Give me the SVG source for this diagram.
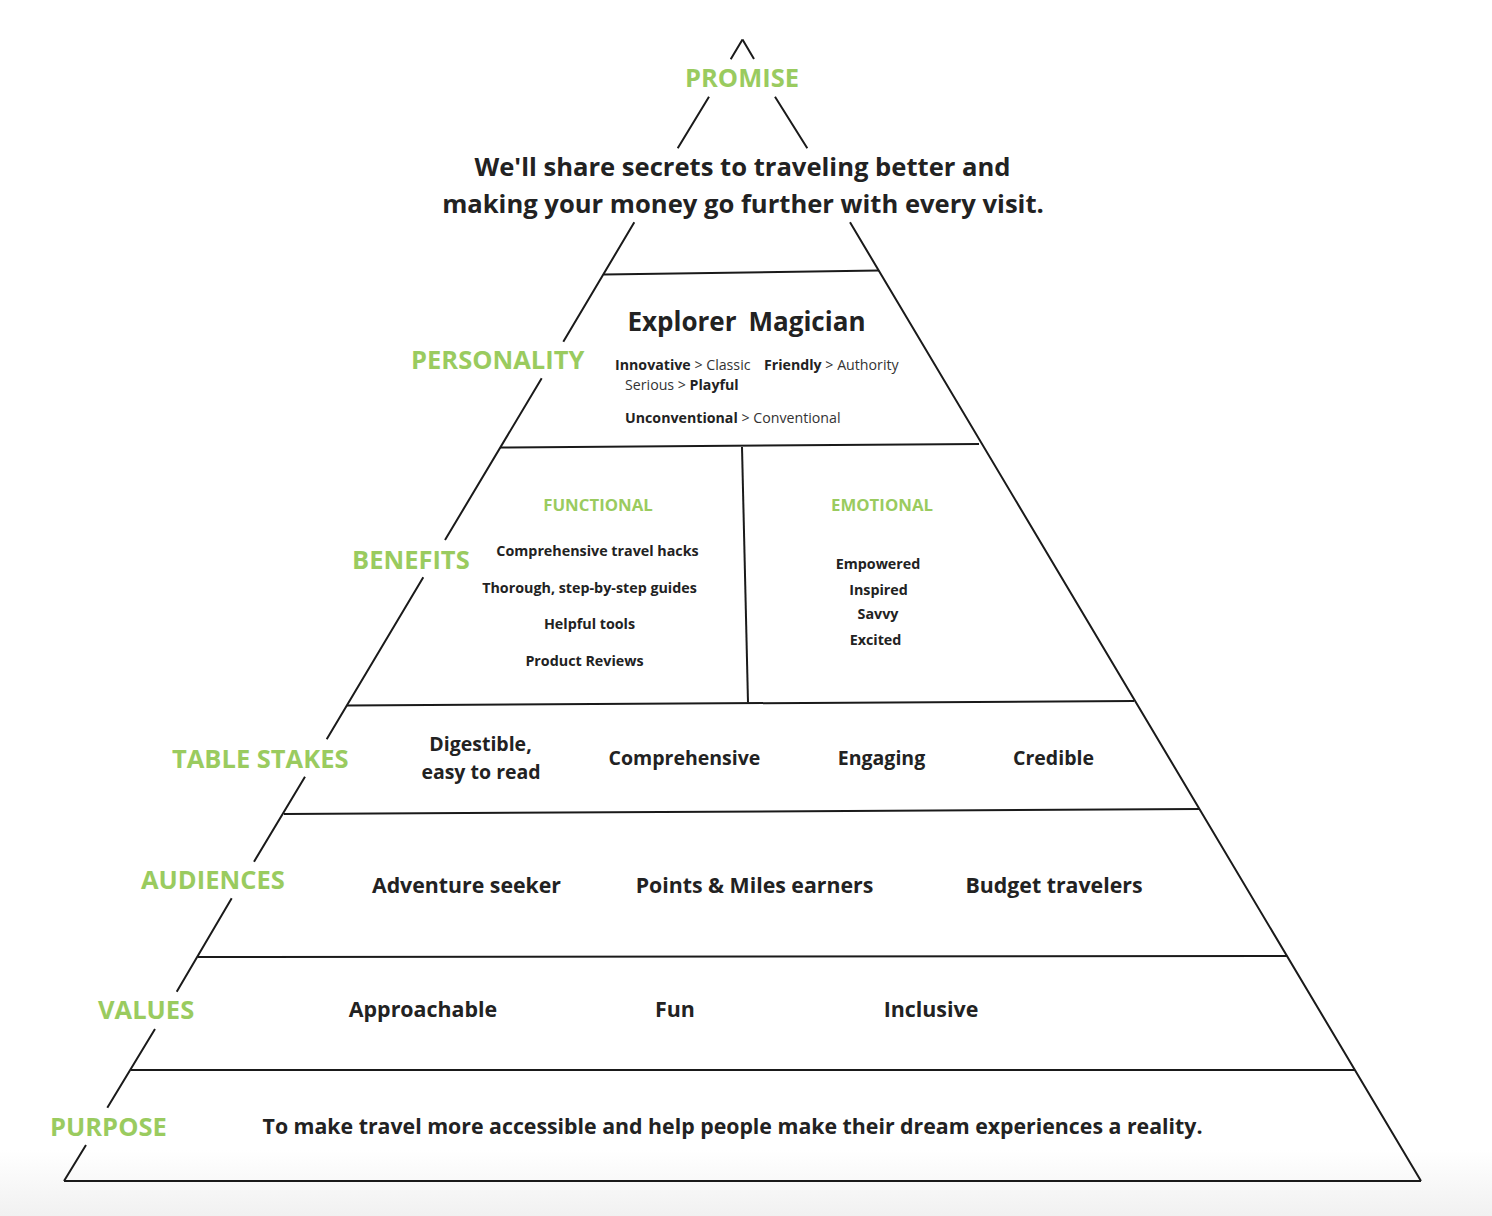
<svg xmlns="http://www.w3.org/2000/svg" width="1492" height="1216" viewBox="0 0 1492 1216">
<defs>
<linearGradient id="bg" x1="0" y1="0" x2="0" y2="1">
<stop offset="0" stop-color="#ffffff"/>
<stop offset="1" stop-color="#f1f1f1"/>
</linearGradient>
<style>
.ln{stroke:#1a1a1a;stroke-width:2;fill:none;stroke-linecap:butt}
.lbl{font-family:"Open Sans","Liberation Sans",sans-serif;font-weight:700;fill:#9acb5f;font-size:25.5px}
.sub{font-family:"Open Sans","Liberation Sans",sans-serif;font-weight:700;fill:#9acb5f;font-size:16.8px;text-anchor:middle}
.t{font-family:"Open Sans","Liberation Sans",sans-serif;font-weight:700;fill:#222;text-anchor:middle}
.s{font-family:"Open Sans","Liberation Sans",sans-serif;fill:#333;font-size:14.2px}
.b{font-weight:700;fill:#222}
</style>
</defs>
<rect width="1492" height="1216" fill="#fff"/>
<rect x="0" y="1150" width="1492" height="66" fill="url(#bg)"/>

<g id="connectors">
<path class="ln" d="M742.5,39.5 L730.7,59.3 M709,96.7 L677.7,148.3 M634.3,222.3 L563.3,341.7 M541.7,378.3 L445,540 M423.3,577.3 L326.7,739.3 M305,776.7 L254,861.7 M231.7,898.3 L176.7,991.7 M155,1029 L107.3,1107.7 M86,1145 L64,1181"/>
<path class="ln" d="M742.5,39.5 L754,59 M775,96.7 L807.3,148.3 M850,222.3 L1421,1181"/>
<path class="ln" d="M604,274.5 L879,270.5"/>
<path class="ln" d="M500,447.5 L979,444"/>
<path class="ln" d="M742,447 L748,702.5"/>
<path class="ln" d="M347,705.5 L1134,701"/>
<path class="ln" d="M284,814 L1199,809"/>
<path class="ln" d="M198,957 L1287,956"/>
<path class="ln" d="M131,1070 L1355,1070"/>
<path class="ln" d="M64,1181 L1421,1181"/>
</g>

<g id="promise">
<text class="lbl" x="742" y="87" text-anchor="middle">PROMISE</text>
<text class="t" x="742.5" y="176" font-size="25.6">We'll share secrets to traveling better and</text>
<text class="t" x="743" y="213" font-size="25.6">making your money go further with every visit.</text>
</g>

<g id="personality">
<text class="lbl" x="411" y="369">PERSONALITY</text>
<text class="t" x="682" y="331" font-size="26">Explorer</text>
<text class="t" x="807" y="331" font-size="26">Magician</text>
<text class="s" x="615" y="370"><tspan class="b">Innovative</tspan> &gt; Classic<tspan class="b" x="764">Friendly</tspan> &gt; Authority</text>
<text class="s" x="625" y="390">Serious &gt; <tspan class="b">Playful</tspan></text>
<text class="s" x="625" y="423"><tspan class="b">Unconventional</tspan> &gt; Conventional</text>
</g>

<g id="benefits">
<text class="lbl" x="352" y="569">BENEFITS</text>
<text class="sub" x="598" y="511">FUNCTIONAL</text>
<text class="t" x="597.5" y="556" font-size="14.3">Comprehensive travel hacks</text>
<text class="t" x="589.5" y="593" font-size="14.3">Thorough, step-by-step guides</text>
<text class="t" x="589.5" y="629" font-size="14.3">Helpful tools</text>
<text class="t" x="584.5" y="666" font-size="14.3">Product Reviews</text>
<text class="sub" x="882" y="511">EMOTIONAL</text>
<text class="t" x="878" y="569" font-size="14.3">Empowered</text>
<text class="t" x="878.5" y="595" font-size="14.3">Inspired</text>
<text class="t" x="878" y="619" font-size="14.3">Savvy</text>
<text class="t" x="875.5" y="645" font-size="14.3">Excited</text>
</g>

<g id="table-stakes">
<text class="lbl" x="172" y="768">TABLE STAKES</text>
<text class="t" x="480.5" y="751" font-size="19.5">Digestible,</text>
<text class="t" x="481" y="779" font-size="19.5">easy to read</text>
<text class="t" x="684.5" y="765" font-size="19.5">Comprehensive</text>
<text class="t" x="881.5" y="765" font-size="19.5">Engaging</text>
<text class="t" x="1053.5" y="765" font-size="19.5">Credible</text>
</g>

<g id="audiences">
<text class="lbl" x="141" y="889">AUDIENCES</text>
<text class="t" x="466.5" y="893" font-size="21.3">Adventure seeker</text>
<text class="t" x="754.5" y="893" font-size="21.3">Points &amp; Miles earners</text>
<text class="t" x="1054" y="893" font-size="21.3">Budget travelers</text>
</g>

<g id="values">
<text class="lbl" x="98" y="1019">VALUES</text>
<text class="t" x="423" y="1017" font-size="21.4">Approachable</text>
<text class="t" x="675" y="1017" font-size="21.4">Fun</text>
<text class="t" x="931" y="1017" font-size="21.4">Inclusive</text>
</g>

<g id="purpose">
<text class="lbl" x="50" y="1136">PURPOSE</text>
<text class="t" x="732.5" y="1134" font-size="21.3">To make travel more accessible and help people make their dream experiences a reality.</text>
</g>
</svg>
